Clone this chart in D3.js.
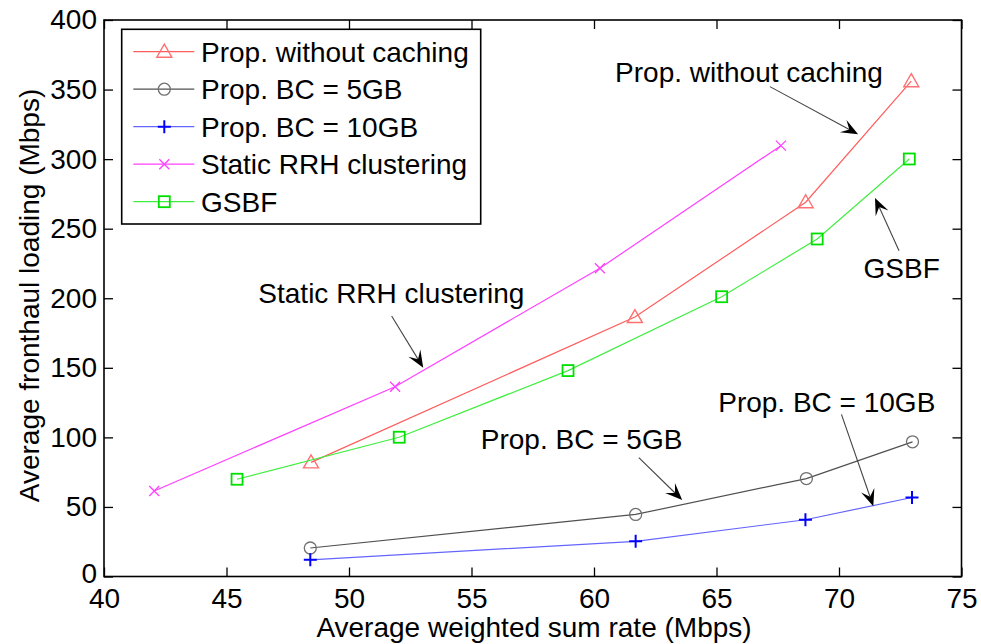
<!DOCTYPE html>
<html>
<head>
<meta charset="utf-8">
<script src="https://cdn.jsdelivr.net/npm/d3@7"></script>
<style>
  html, body { margin: 0; padding: 0; background: #fff; }
  svg { display: block; }
  text { font-family: "Liberation Sans", Arial, sans-serif; fill: #000; }
</style>
</head>
<body>
<svg id="chart" width="981" height="644"></svg>
<script>
// ---------- DATA ----------
const xTicks = [40, 45, 50, 55, 60, 65, 70, 75];
const yTicks = [0, 50, 100, 150, 200, 250, 300, 350, 400];

const seriesNames = ["Prop. without caching", "Prop. BC = 5GB", "Prop. BC = 10GB", "Static RRH clustering", "GSBF"];

const propNoCacheX = [48.45, 61.67, 68.64, 72.95];
const propNoCacheY = [82, 186.5, 269, 356];

const propBC5X = [48.42, 61.7, 68.67, 73.0];
const propBC5Y = [20.5, 44.6, 70.4, 96.8];

const propBC10X = [48.42, 61.7, 68.63, 72.98];
const propBC10Y = [12, 25.3, 40.8, 56.8];

const staticX = [42.05, 51.88, 60.24, 67.63];
const staticY = [61.5, 136.4, 221.6, 309.7];

const gsbfX = [45.43, 52.05, 58.94, 65.21, 69.11, 72.87];
const gsbfY = [69.9, 100.1, 148, 201.1, 242.6, 300.1];

// annotations: text (start x, baseline y) and arrow (from -> tip) in data units
const annoText = ["Prop. without caching", "GSBF", "Static RRH clustering", "Prop. BC = 5GB", "Prop. BC = 10GB"];
const annoTextX = [60.86, 71.0, 46.3, 55.38, 65.07];
const annoTextY = [355.5, 214.4, 196.4, 91.5, 118.2];
const arrowFromX = [67.18, 72.45, 51.74, 61.83, 70.1];
const arrowFromY = [352.1, 234.2, 187.3, 85.5, 116.5];
const arrowToX = [70.78, 71.47, 53.03, 63.6, 71.4];
const arrowToY = [317.9, 272.1, 150.1, 55, 50.5];

// ---------- LAYOUT ----------
const svg = d3.select("#chart");
const mLeft = 104, mRight = 961.5, mTop = 20, mBottom = 576.5;
const x = d3.scaleLinear().domain([40, 75]).range([mLeft, mRight]);
const y = d3.scaleLinear().domain([0, 400]).range([mBottom, mTop]);
const FS = 28;

const styles = [
  { line: "#ff5c5c", mk: "#ff7070", marker: "tri" },
  { line: "#505050", mk: "#707070", marker: "circle" },
  { line: "#6464ff", mk: "#0000ff", marker: "plus" },
  { line: "#ff40ff", mk: "#ff40ff", marker: "x" },
  { line: "#40ee40", mk: "#00e000", marker: "square" }
];
const seriesX = [propNoCacheX, propBC5X, propBC10X, staticX, gsbfX];
const seriesY = [propNoCacheY, propBC5Y, propBC10Y, staticY, gsbfY];

function drawMarker(g, type, cx, cy, color) {
  if (type === "tri") {
    g.append("path").attr("d", `M${cx},${cy-7.5} L${cx+7.5},${cy+5.5} L${cx-7.5},${cy+5.5} Z`)
      .attr("fill", "none").attr("stroke", color).attr("stroke-width", 1.4);
  } else if (type === "circle") {
    g.append("circle").attr("cx", cx).attr("cy", cy).attr("r", 6)
      .attr("fill", "none").attr("stroke", color).attr("stroke-width", 1.3);
  } else if (type === "plus") {
    g.append("path").attr("d", `M${cx-6.5},${cy} H${cx+6.5} M${cx},${cy-6.5} V${cy+6.5}`)
      .attr("stroke", color).attr("stroke-width", 2);
  } else if (type === "x") {
    g.append("path").attr("d", `M${cx-5},${cy-5} L${cx+5},${cy+5} M${cx-5},${cy+5} L${cx+5},${cy-5}`)
      .attr("stroke", color).attr("stroke-width", 1.3);
  } else if (type === "square") {
    g.append("rect").attr("x", cx-5.5).attr("y", cy-5.5).attr("width", 11).attr("height", 11)
      .attr("fill", "none").attr("stroke", color).attr("stroke-width", 1.8);
  }
}

// ---------- AXES ----------
const xAxis = d3.axisBottom(x).tickValues(xTicks).tickSize(-9).tickSizeOuter(0).tickPadding(12);
const yAxis = d3.axisLeft(y).tickValues(yTicks).tickSize(-9).tickSizeOuter(0).tickPadding(7);
const xTopAxis = d3.axisTop(x).tickValues(xTicks).tickSize(-9).tickSizeOuter(0).tickFormat("");
const yRightAxis = d3.axisRight(y).tickValues(yTicks).tickSize(-9).tickSizeOuter(0).tickFormat("");

function styleAxis(g) {
  g.select(".domain").remove();
  g.selectAll(".tick line").attr("stroke", "#000").attr("stroke-width", 1.3);
  g.selectAll(".tick text").style("font-size", FS + "px").style("font-family", "Liberation Sans, Arial, sans-serif").attr("fill", "#000");
}
svg.append("g").attr("transform", `translate(0,${mBottom})`).call(xAxis).call(styleAxis);
const gy = svg.append("g").attr("transform", `translate(${mLeft},0)`).call(yAxis).call(styleAxis);
gy.selectAll(".tick text").filter(d => d === 0).attr("dy", "0.22em");
svg.append("g").attr("transform", `translate(0,${mTop})`).call(xTopAxis).call(styleAxis);
svg.append("g").attr("transform", `translate(${mRight},0)`).call(yRightAxis).call(styleAxis);

svg.append("rect").attr("x", mLeft).attr("y", mTop).attr("width", mRight-mLeft).attr("height", mBottom-mTop)
  .attr("fill", "none").attr("stroke", "#000").attr("stroke-width", 1.6);

// axis labels
svg.append("text").attr("x", 534).attr("y", 636.5).attr("text-anchor", "middle")
  .style("font-size", FS + "px").text("Average weighted sum rate (Mbps)");
svg.append("text").attr("transform", `translate(39,${(88+503)/2}) rotate(-90)`).attr("text-anchor", "middle")
  .style("font-size", FS + "px").text("Average fronthaul loading (Mbps)");

// ---------- SERIES ----------
const line = d3.line().x(d => x(d[0])).y(d => y(d[1]));
seriesX.forEach((xs, i) => {
  const pts = xs.map((v, j) => [v, seriesY[i][j]]);
  const g = svg.append("g");
  g.append("path").datum(pts).attr("d", line).attr("fill", "none")
    .attr("stroke", styles[i].line).attr("stroke-width", 1.2);
  pts.forEach(p => drawMarker(g, styles[i].marker, x(p[0]), y(p[1]), styles[i].mk));
});

// ---------- ANNOTATIONS ----------
annoText.forEach((t, i) => {
  svg.append("text").attr("x", x(annoTextX[i])).attr("y", y(annoTextY[i]))
    .style("font-size", FS + "px").text(t);
  const x1 = x(arrowFromX[i]), y1 = y(arrowFromY[i]);
  const x2 = x(arrowToX[i]), y2 = y(arrowToY[i]);
  const ang = Math.atan2(y2 - y1, x2 - x1);
  const L = 17, W = 7, N = 10;
  const ux = Math.cos(ang), uy = Math.sin(ang);
  const px = -uy, py = ux;
  const bx = x2 - ux*L, by = y2 - uy*L;
  const nx = x2 - ux*N, ny = y2 - uy*N;
  svg.append("line").attr("x1", x1).attr("y1", y1).attr("x2", nx).attr("y2", ny)
    .attr("stroke", "#444").attr("stroke-width", 1.1);
  svg.append("path")
    .attr("d", `M${x2},${y2} L${bx+px*W},${by+py*W} L${nx},${ny} L${bx-px*W},${by-py*W} Z`)
    .attr("fill", "#000");
});

// ---------- LEGEND ----------
const lg = svg.append("g");
lg.append("rect").attr("x", 121.7).attr("y", 29.3).attr("width", 359).attr("height", 194.7)
  .attr("fill", "#fff").attr("stroke", "#000").attr("stroke-width", 1.6);
seriesNames.forEach((n, i) => {
  const cy = 51.7 + i * 37.5;
  lg.append("line").attr("x1", 133.3).attr("x2", 194.3).attr("y1", cy).attr("y2", cy)
    .attr("stroke", styles[i].line).attr("stroke-width", 1.2);
  drawMarker(lg, styles[i].marker, 164.3, cy, styles[i].mk);
  lg.append("text").attr("x", 201).attr("y", cy + 10).style("font-size", FS + "px").text(n);
});
</script>
</body>
</html>
